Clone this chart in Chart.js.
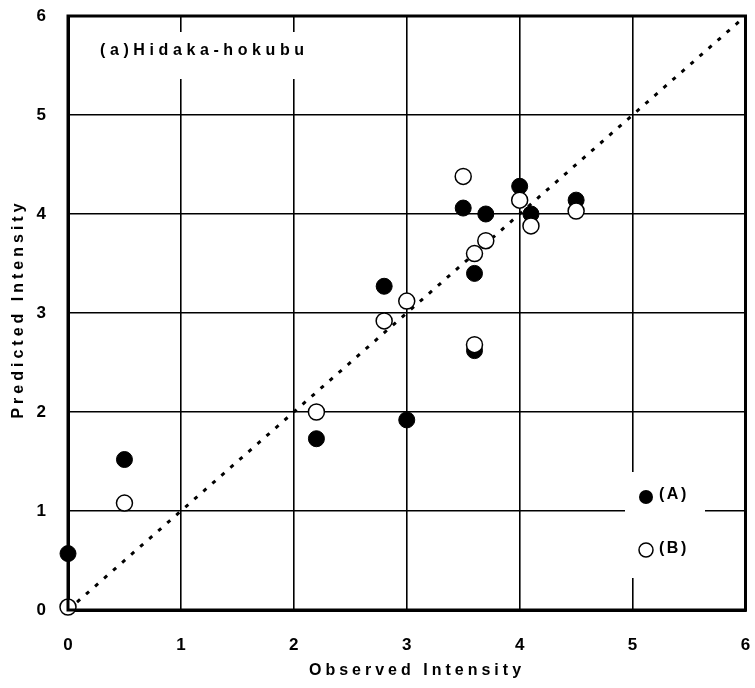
<!DOCTYPE html>
<html>
<head>
<meta charset="utf-8">
<script src="https://cdn.jsdelivr.net/npm/chart.js@4"></script>
<style>
  html, body { margin: 0; padding: 0; background: #fff; }
  #wrap { width: 755px; height: 688px; }
</style>
</head>
<body>
<div id="wrap"><canvas id="chart" width="755" height="688"></canvas></div>
<script>
// observed / predicted pairs
const obsA  = [0, 0.5, 2.2, 3.0, 2.8, 3.6, 3.6, 3.5, 3.7, 4.0, 4.1, 4.5];
const predA = [0.57, 1.52, 1.73, 1.92, 3.27, 3.40, 2.62, 4.06, 4.00, 4.28, 4.00, 4.14];
const obsB  = [0, 0.5, 2.2, 2.8, 3.0, 3.5, 3.6, 3.7, 3.6, 4.0, 4.1, 4.5];
const predB = [0.03, 1.08, 2.00, 2.92, 3.12, 4.38, 3.60, 3.73, 2.68, 4.14, 3.88, 4.03];
const diag  = [0, 6];
const axisMin = 0, axisMax = 6;

const plotTitle = "(a)Hidaka-hokubu";
const xTitle = "Observed Intensity";
const yTitle = "Predicted Intensity";
const FONT = "'Liberation Sans', Arial, sans-serif";

const toPts = (xs, ys) => xs.map((x, i) => ({ x, y: ys[i] }));

function spaced(ctx, text, x, y, spacing) {
  ctx.save();
  ctx.letterSpacing = spacing + "px";
  ctx.fillText(text, x, y);
  ctx.restore();
}

const decor = {
  id: "decor",
  beforeDatasetsDraw(chart) {
    const { ctx } = chart;
    ctx.save();
    ctx.fillStyle = "#fff";
    // white patches behind plot label and legend
    ctx.fillRect(86, 32, 236, 47);
    ctx.fillRect(625, 472, 80, 106);
    ctx.restore();
  },
  afterDatasetsDraw(chart) {
    const { ctx, chartArea: a } = chart;
    ctx.save();
    ctx.strokeStyle = "#000";
    ctx.lineWidth = 3;
    ctx.strokeRect(a.left, a.top, a.right - a.left, a.bottom - a.top);
    ctx.restore();
  },
  afterDraw(chart) {
    const { ctx } = chart;
    ctx.save();
    ctx.fillStyle = "#000";
    ctx.textBaseline = "middle";
    ctx.font = "bold 16px " + FONT;
    ctx.textAlign = "left";
    spaced(ctx, plotTitle, 100, 51, 4.6);

    // legend
    ctx.lineWidth = 1.5;
    ctx.beginPath();
    ctx.arc(646, 497, 7, 0, Math.PI * 2);
    ctx.fill();
    ctx.beginPath();
    ctx.arc(646, 550, 7, 0, Math.PI * 2);
    ctx.fillStyle = "#fff";
    ctx.fill();
    ctx.strokeStyle = "#000";
    ctx.stroke();
    ctx.fillStyle = "#000";
    ctx.font = "bold 16px " + FONT;
    spaced(ctx, "(A)", 659, 495, 2.5);
    spaced(ctx, "(B)", 659, 549, 2.5);

    // axis titles
    ctx.textAlign = "center";
    spaced(ctx, xTitle, 417, 671, 4);
    ctx.translate(19, 309);
    ctx.rotate(-Math.PI / 2);
    spaced(ctx, yTitle, 0, 0, 4);
    ctx.restore();
  }
};

const tickFont = { family: FONT, size: 17, weight: "bold" };
const gridOpts = { color: "#000", lineWidth: 1.6, drawTicks: false };

new Chart(document.getElementById("chart"), {
  type: "scatter",
  data: {
    datasets: [
      {
        label: "(B)",
        data: toPts(obsB, predB),
        pointRadius: 8,
        pointBackgroundColor: "#fff",
        pointBorderColor: "#000",
        pointBorderWidth: 1.5,
        clip: false,
        order: 0,
      },
      {
        label: "(A)",
        data: toPts(obsA, predA),
        pointRadius: 8,
        pointBackgroundColor: "#000",
        pointBorderColor: "#000",
        pointBorderWidth: 1,
        clip: false,
        order: 1,
      },
      {
        label: "1:1",
        type: "line",
        data: toPts(diag, diag),
        borderColor: "#000",
        borderWidth: 3,
        borderDash: [4, 8],
        pointRadius: 0,
        order: 2,
      },
    ],
  },
  options: {
    responsive: false,
    animation: false,
    layout: { padding: { top: 16, right: 8, left: 0, bottom: 0 } },
    plugins: { legend: { display: false }, tooltip: { enabled: false } },
    scales: {
      x: {
        type: "linear", min: axisMin, max: axisMax,
        ticks: { stepSize: 1, color: "#000", font: tickFont, padding: 25 },
        grid: gridOpts,
        border: { color: "#000", width: 3 },
        afterFit: (s) => { s.height = 78; s.paddingLeft = 0; s.paddingRight = 0; },
      },
      y: {
        type: "linear", min: axisMin, max: axisMax,
        ticks: { stepSize: 1, color: "#000", font: tickFont, padding: 22 },
        grid: gridOpts,
        border: { color: "#000", width: 3 },
        afterFit: (s) => { s.width = 68; s.paddingTop = 0; s.paddingBottom = 0; },
      },
    },
  },
  plugins: [decor],
});
</script>
</body>
</html>
